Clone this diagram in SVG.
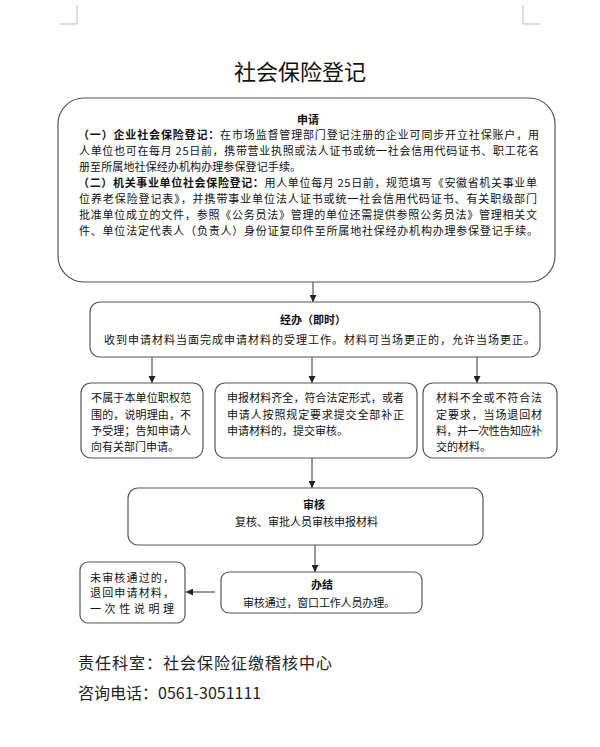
<svg xmlns="http://www.w3.org/2000/svg" width="600" height="747" viewBox="0 0 600 747">
<style>
.box{fill:#fff;stroke:#555;stroke-width:1.2}
.t{font-family:"Noto Sans CJK SC","Noto Sans",sans-serif;font-size:11px;fill:#111}
.b{font-weight:bold}
.c{text-anchor:middle}
.con{stroke:#333;stroke-width:1;fill:none}
.mark{stroke:#bbb;stroke-width:1;fill:none}
.foot{font-family:"Noto Sans CJK SC","Noto Sans",sans-serif;font-size:16px;fill:#222}
</style>
<defs>
<marker id="ah" viewBox="0 0 10 10" refX="10" refY="5" markerWidth="7" markerHeight="7" orient="auto" markerUnits="userSpaceOnUse">
<path d="M0,0 L10,5 L0,10 z" fill="#222"/>
</marker>
</defs>
<rect width="600" height="747" fill="#fff"/>
<path class="mark" d="M77,5 V24 H60 M523,5 V24 H540"/>
<text x="300" y="80" class="c" font-family="'Noto Sans CJK SC','Noto Sans',sans-serif" font-size="22" fill="#111">社会保险登记</text>

<g id="connectors">
<line class="con" x1="313" y1="282" x2="313" y2="302" marker-end="url(#ah)"/>
<line class="con" x1="152" y1="357" x2="152" y2="383" marker-end="url(#ah)"/>
<line class="con" x1="312" y1="357" x2="312" y2="383" marker-end="url(#ah)"/>
<line class="con" x1="477" y1="357" x2="477" y2="383" marker-end="url(#ah)"/>
<line class="con" x1="312" y1="458" x2="312" y2="488" marker-end="url(#ah)"/>
<line class="con" x1="315" y1="545" x2="315" y2="572" marker-end="url(#ah)"/>
<line class="con" x1="215" y1="592" x2="186" y2="592" marker-end="url(#ah)"/>
</g>

<g id="apply">
<rect class="box" x="58" y="98" width="497" height="184" rx="26"/>
<text x="308" y="124" class="t b c">申请</text>
<text x="78" y="139" class="t" textLength="461" lengthAdjust="spacing"><tspan class="b">（一）企业社会保险登记：</tspan>在市场监督管理部门登记注册的企业可同步开立社保账户，用</text>
<text x="79" y="155" class="t" textLength="460" lengthAdjust="spacing">人单位也可在每月 25日前，携带营业执照或法人证书或统一社会信用代码证书、职工花名</text>
<text x="79" y="171" class="t" textLength="222" lengthAdjust="spacing">册至所属地社保经办机构办理参保登记手续。</text>
<text x="78" y="187" class="t" textLength="459" lengthAdjust="spacing"><tspan class="b">（二）机关事业单位社会保险登记：</tspan>用人单位每月 25日前，规范填写《安徽省机关事业单</text>
<text x="79" y="203" class="t" textLength="458" lengthAdjust="spacing">位养老保险登记表》，并携带事业单位法人证书或统一社会信用代码证书、有关职级部门</text>
<text x="79" y="219" class="t" textLength="458" lengthAdjust="spacing">批准单位成立的文件，参照《公务员法》管理的单位还需提供参照公务员法》管理相关文</text>
<text x="79" y="235" class="t" textLength="459" lengthAdjust="spacing">件、单位法定代表人（负责人）身份证复印件至所属地社保经办机构办理参保登记手续。</text>
</g>

<g id="handle">
<rect class="box" x="90" y="302" width="450" height="55" rx="10"/>
<text x="313" y="324" class="t b c">经办（即时）</text>
<text x="104" y="344" class="t" textLength="431" lengthAdjust="spacing">收到申请材料当面完成申请材料的受理工作。材料可当场更正的，允许当场更正。</text>
</g>

<g id="reject">
<rect class="box" x="81" y="383" width="122" height="75" rx="10"/>
<text class="t" x="91" textLength="100" lengthAdjust="spacing" y="402">不属于本单位职权范</text>
<text class="t" x="91" textLength="100" lengthAdjust="spacing" y="419">围的，说明理由，不</text>
<text class="t" x="91" textLength="100" lengthAdjust="spacing" y="435">予受理；告知申请人</text>
<text class="t" x="91" y="451">向有关部门申请。</text>
</g>

<g id="accept">
<rect class="box" x="215" y="383" width="202" height="75" rx="10"/>
<text class="t" x="227" textLength="177" lengthAdjust="spacing" y="402">申报材料齐全，符合法定形式，或者</text>
<text class="t" x="227" textLength="177" lengthAdjust="spacing" y="419">申请人按照规定要求提交全部补正</text>
<text class="t" x="227" y="435">申请材料的，提交审核。</text>
</g>

<g id="incomplete">
<rect class="box" x="423" y="383" width="134" height="75" rx="10"/>
<text class="t" x="436" textLength="106" lengthAdjust="spacing" y="402">材料不全或不符合法</text>
<text class="t" x="436" textLength="106" lengthAdjust="spacing" y="419">定要求，当场退回材</text>
<text class="t" x="436" textLength="106" lengthAdjust="spacing" y="435">料，并一次性告知应补</text>
<text class="t" x="436" y="451">交的材料。</text>
</g>

<g id="review">
<rect class="box" x="128" y="488" width="355" height="57" rx="10"/>
<text x="314" y="509" class="t b c">审核</text>
<text x="235" y="526" class="t" textLength="143" lengthAdjust="spacing">复核、审批人员审核申报材料</text>
</g>

<g id="finish">
<rect class="box" x="221" y="572" width="201" height="41" rx="8"/>
<text x="322" y="589" class="t b c">办结</text>
<text x="243" y="607" class="t" textLength="152" lengthAdjust="spacing">审核通过，窗口工作人员办理。</text>
</g>

<g id="fail">
<rect class="box" x="80" y="562" width="105" height="61" rx="8"/>
<text class="t" x="90" textLength="84" lengthAdjust="spacing" y="582">未审核通过的，</text>
<text class="t" x="90" textLength="84" lengthAdjust="spacing" y="597">退回申请材料，</text>
<text class="t" x="90" textLength="84" lengthAdjust="spacing" y="613">一次性说明理</text>
</g>

<text x="78" y="669" class="foot" textLength="254" lengthAdjust="spacing">责任科室：社会保险征缴稽核中心</text>
<text x="78" y="699" class="foot">咨询电话：0561-3051111</text>
</svg>
